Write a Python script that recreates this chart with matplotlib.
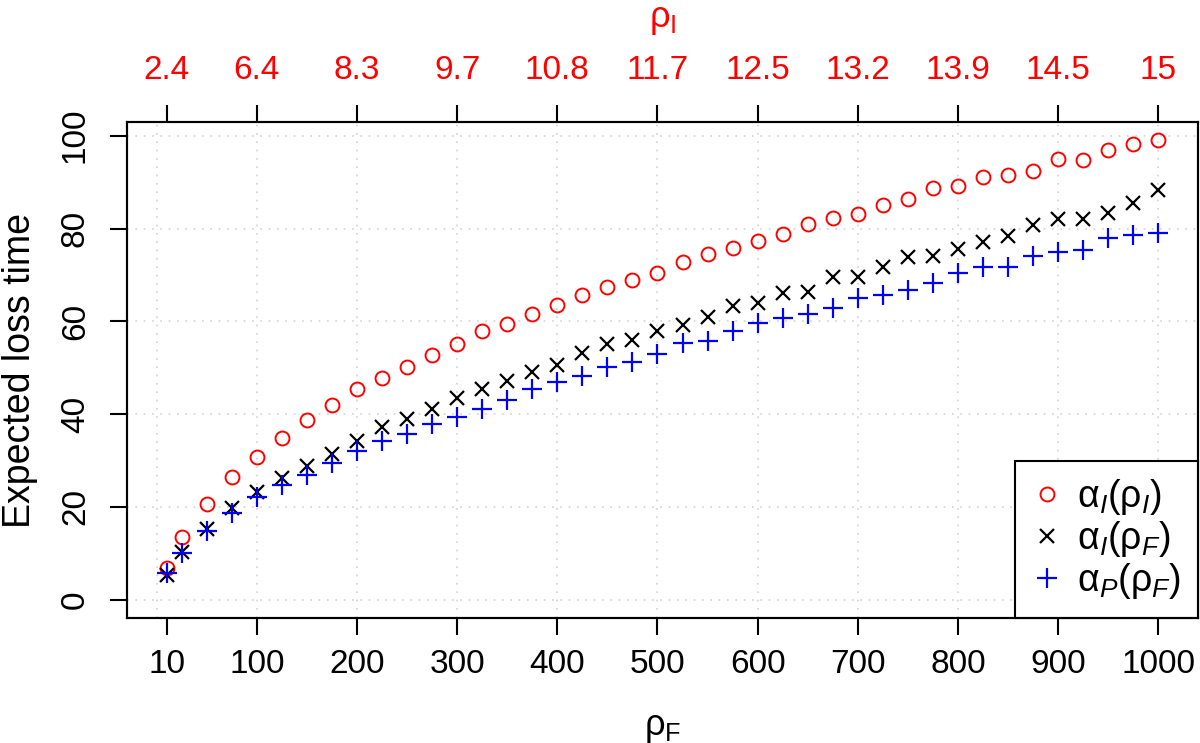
import matplotlib
matplotlib.use("Agg")
import matplotlib.pyplot as plt
import numpy as np

plt.rcParams['font.family'] = ['Liberation Sans', 'DejaVu Sans']
plt.rcParams['mathtext.fontset'] = 'custom'
plt.rcParams['mathtext.rm'] = 'Liberation Sans'
plt.rcParams['mathtext.it'] = 'Liberation Sans:italic'
plt.rcParams['mathtext.sf'] = 'Liberation Sans'

# data
rho_F = [10, 25] + list(range(50, 1001, 25))
alpha_I_rhoI = [6.9, 13.4, 20.7, 26.5, 30.8, 34.9, 38.8, 42.0, 45.5, 47.8, 50.2,
                52.8, 55.0, 57.8, 59.5, 61.6, 63.6, 65.6, 67.3, 68.8, 70.5,
                72.8, 74.6, 75.9, 77.3, 78.9, 81.0, 82.3, 83.2, 85.0, 86.4,
                88.8, 89.2, 91.0, 91.6, 92.5, 95.0, 94.8, 97.0, 98.3, 99.1]
alpha_I_rhoF = [5.4, 10.3, 15.3, 19.8, 23.1, 26.3, 28.9, 31.5, 34.1, 37.3, 38.9,
                41.1, 43.5, 45.3, 47.2, 49.1, 50.6, 53.2, 55.0, 56.0, 57.8,
                59.1, 61.0, 63.2, 63.9, 66.2, 66.4, 69.6, 69.6, 71.8, 73.9,
                74.1, 75.6, 77.0, 78.4, 80.8, 82.1, 82.1, 83.4, 85.6, 88.4]
alpha_P_rhoF = [5.8, 10.1, 14.9, 18.7, 22.2, 24.8, 26.9, 29.5, 32.1, 34.1, 35.6,
                37.9, 39.4, 41.1, 43.1, 45.5, 47.0, 48.3, 50.2, 51.3, 53.0,
                55.4, 55.8, 57.8, 59.7, 60.7, 61.6, 62.9, 65.1, 65.7, 66.8,
                68.3, 70.5, 71.8, 71.8, 74.1, 75.0, 75.4, 78.0, 78.7, 79.1]

xticks = [10, 100, 200, 300, 400, 500, 600, 700, 800, 900, 1000]
top_labels = ['2.4', '6.4', '8.3', '9.7', '10.8', '11.7', '12.5', '13.2', '13.9', '14.5', '15']
yticks = [0, 20, 40, 60, 80, 100]

fig = plt.figure(figsize=(12, 7.43), dpi=100)
ax = fig.add_axes([127/1200, (743-618)/743, (1198-127)/1200, (618-122)/743])

# grid
for gx in range(0, 1001, 100):
    ax.axvline(gx, color='lightgray', ls=(0, (1, 4)), lw=1.2, zorder=0)
for gy in yticks:
    ax.axhline(gy, color='lightgray', ls=(0, (1, 4)), lw=1.2, zorder=0)

ax.plot(rho_F, alpha_I_rhoI, ls='none', marker='o', ms=10, mfc='none', mec='red', mew=1.4,
        label=r'$\mathrm{\alpha_{\mathit{I}}(\rho_{\mathit{I}})}$')
ax.plot(rho_F, alpha_I_rhoF, ls='none', marker='x', ms=10.5, mec='black', mew=1.6,
        label=r'$\mathrm{\alpha_{\mathit{I}}(\rho_{\mathit{F}})}$')
ax.plot(rho_F, alpha_P_rhoF, ls='none', marker='+', ms=14, mec='blue', mew=1.6,
        label=r'$\mathrm{\alpha_{\mathit{P}}(\rho_{\mathit{F}})}$')

ax.set_xlim(-29.6, 1039.6)
ax.set_ylim(-3.96, 102.96)
ax.set_xticks(xticks)
ax.set_yticks(yticks)
ax.tick_params(axis='x', direction='out', length=12, width=1.5, labelsize=24, pad=10)
ax.tick_params(axis='y', direction='out', length=12, width=1.5, labelsize=24, pad=14,
               labelrotation=90)
for lab in ax.get_yticklabels():
    lab.set_va('center')
for s in ax.spines.values():
    s.set_linewidth(1.5)

ax.set_xlabel(r'$\mathrm{\rho_{F}}$', fontsize=26, labelpad=22)
ax.set_ylabel('Expected loss time', fontsize=27, labelpad=16)

ax2 = ax.twiny()
ax2.set_xlim(ax.get_xlim())
ax2.set_xticks(xticks)
ax2.set_xticklabels(top_labels, color='red')
ax2.tick_params(axis='x', direction='out', length=12, width=1.5, labelsize=24, pad=14)
ax2.set_xlabel(r'$\mathrm{\rho_{I}}$', fontsize=26, color='red', labelpad=20)
for s in ax2.spines.values():
    s.set_linewidth(1.5)

leg = ax.legend(loc='lower right', fontsize=27, borderaxespad=0, fancybox=False,
                edgecolor='black', framealpha=1, handlelength=0.8, handletextpad=0.4,
                labelspacing=0.05, borderpad=0.45)
leg.get_frame().set_linewidth(1.5)

plt.savefig('out.png', dpi=100)
